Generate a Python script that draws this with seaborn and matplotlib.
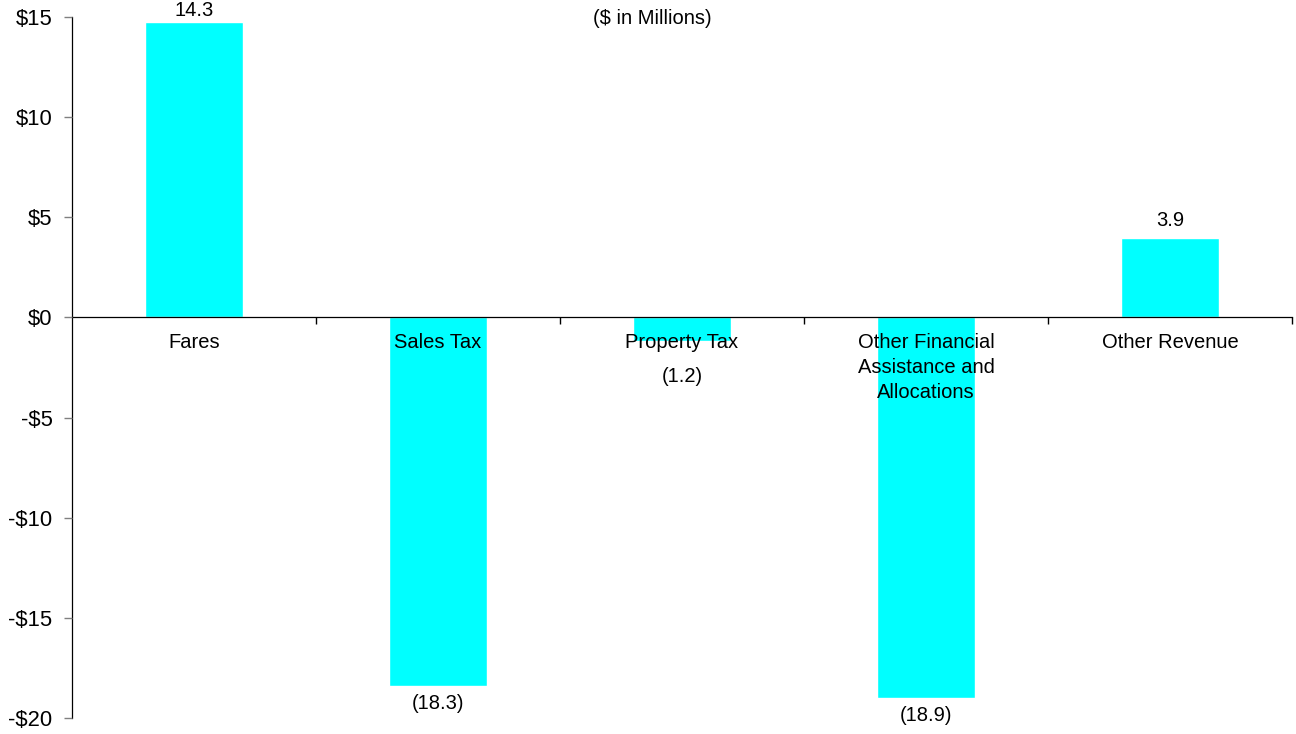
import matplotlib
matplotlib.use("Agg")
import matplotlib.pyplot as plt
import seaborn as sns
import pandas as pd
from matplotlib.ticker import FuncFormatter

# Kategooriad, tulpade kõrgused (loetud pildilt) ja siltide tekstid
categories = ["Fares", "Sales Tax", "Property Tax",
              "Other Financial\nAssistance and\nAllocations", "Other Revenue"]
bar_values = [14.75, -18.4, -1.2, -19.0, 3.95]
bar_labels = ["14.3", "(18.3)", "(1.2)", "(18.9)", "3.9"]
y_ticks = [-20, -15, -10, -5, 0, 5, 10, 15]

df = pd.DataFrame({"Kategooria": categories, "Väärtus": bar_values})

sns.set_style("white")
plt.rcParams["font.family"] = ["Liberation Sans", "DejaVu Sans"]
plt.rcParams["text.color"] = "black"
plt.rcParams["xtick.color"] = "black"
plt.rcParams["ytick.color"] = "black"
FS = 14.5

fig = plt.figure(figsize=(12.96, 7.34), dpi=100)
ax = fig.add_axes([72 / 1296, 16 / 734, 1220 / 1296, 701 / 734])

sns.barplot(data=df, x="Kategooria", y="Väärtus", color="#00FFFF",
            saturation=1, width=0.4, errorbar=None, ax=ax)
ax.set_axisbelow(False)

ax.set_xlim(-0.5, len(categories) - 0.5)
ax.set_ylim(-20, 15)
ax.set_yticks(y_ticks)
ax.yaxis.set_major_formatter(FuncFormatter(lambda v, p: f"${v:.0f}" if v >= 0 else f"-${-v:.0f}"))
ax.tick_params(axis="y", direction="out", length=6, width=1, color="#808080",
               labelsize=15.8, labelcolor="black", left=True, pad=8)

# x-telg nulljoonel, kriipsud kategooriate vahel
ax.spines["bottom"].set_position(("data", 0))
ax.spines["top"].set_visible(False)
ax.spines["right"].set_visible(False)
for s in ["left", "bottom"]:
    ax.spines[s].set_linewidth(0.9)
    ax.spines[s].set_color("black")
ax.set_xticks(range(len(categories)))
ax.set_xticklabels(categories, fontsize=FS, linespacing=1.42)
ax.tick_params(axis="x", which="major", length=0, pad=11, labelcolor="black")
ax.set_xticks([i + 0.5 for i in range(len(categories))], minor=True)
ax.tick_params(axis="x", which="minor", direction="out", length=5, width=1,
               color="black", bottom=True)
ax.set_xlabel("")
ax.set_ylabel("")
ax.grid(False)

# Andmesildid
for i, (v, lab) in enumerate(zip(bar_values, bar_labels)):
    if abs(v) < 2:
        y = -2.95
    elif v > 0:
        y = min(v + 0.9, 15.3)
    else:
        y = v - 0.9
    ax.text(i, y, lab, ha="center", va="center", fontsize=FS, color="black",
            clip_on=False, zorder=5)

fig.text(652 / 1296, 1 - 18 / 734, "($ in Millions)", ha="center", va="center",
         fontsize=FS, color="black")

plt.savefig("out.png", dpi=100)
